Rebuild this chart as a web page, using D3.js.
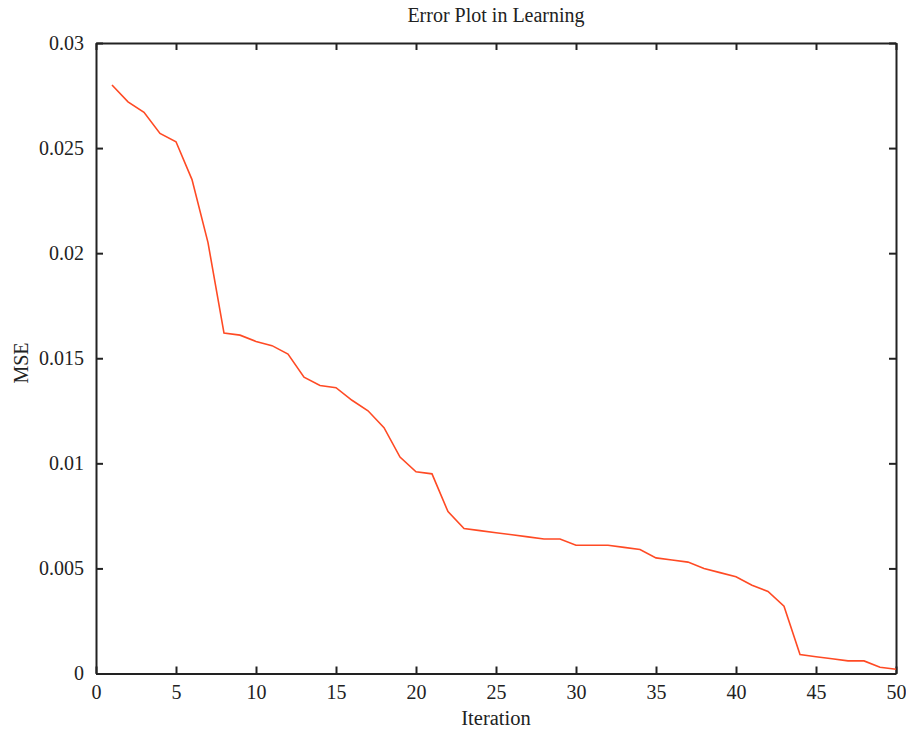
<!DOCTYPE html>
<html><head><meta charset="utf-8">
<script src="https://cdn.jsdelivr.net/npm/d3@7"></script>
<style>body{margin:0;background:#fff;} text{font-family:"Liberation Serif","DejaVu Serif",serif;fill:#222;}</style>
</head><body>
<svg id="c" width="906" height="731"></svg>
<script>
const iterations = d3.range(1, 51);
const mse = [0.0280,0.0272,0.0267,0.0257,0.0253,0.0235,0.0205,0.0162,0.0161,0.0158,
             0.0156,0.0152,0.0141,0.0137,0.0136,0.0130,0.0125,0.0117,0.0103,0.0096,
             0.0095,0.0077,0.0069,0.0068,0.0067,0.0066,0.0065,0.0064,0.0064,0.0061,
             0.0061,0.0061,0.0060,0.0059,0.0055,0.0054,0.0053,0.0050,0.0048,0.0046,
             0.0042,0.0039,0.0032,0.0009,0.0008,0.0007,0.0006,0.0006,0.0003,0.0002];
const xTicks = [0,5,10,15,20,25,30,35,40,45,50];
const yTicks = [0,0.005,0.01,0.015,0.02,0.025,0.03];
const yTickLabels = ["0","0.005","0.01","0.015","0.02","0.025","0.03"];

const L=96, R=896, T=43, B=673.5;
const svg = d3.select("#c");
const x = d3.scaleLinear().domain([0,50]).range([L,R]);
const y = d3.scaleLinear().domain([0,0.03]).range([B,T]);

const gx = svg.append("g").attr("transform",`translate(0,${B})`)
  .call(d3.axisBottom(x).tickValues(xTicks).tickSizeInner(-7).tickSizeOuter(0).tickPadding(11).tickFormat(d3.format("d")));
const gxt = svg.append("g").attr("transform",`translate(0,${T})`)
  .call(d3.axisTop(x).tickValues(xTicks).tickSizeInner(-7).tickSizeOuter(0).tickFormat(""));
const gy = svg.append("g").attr("transform",`translate(${L},0)`)
  .call(d3.axisLeft(y).tickValues(yTicks).tickSizeInner(-7).tickSizeOuter(0).tickPadding(12).tickFormat((d,i)=>yTickLabels[i]));
const gyr = svg.append("g").attr("transform",`translate(${R},0)`)
  .call(d3.axisRight(y).tickValues(yTicks).tickSizeInner(-7).tickSizeOuter(0).tickFormat(""));
[gx,gxt,gy,gyr].forEach(g=>{
  g.selectAll("path.domain").attr("stroke","#222").attr("stroke-width",2);
  g.selectAll(".tick line").attr("stroke","#222").attr("stroke-width",2);
  g.selectAll(".tick text").attr("font-size",20).attr("fill","#222").attr("font-family","'Liberation Serif',serif");
});

const line = d3.line().x((d,i)=>x(iterations[i])).y(d=>y(d));
svg.append("path").datum(mse).attr("d",line)
  .attr("fill","none").attr("stroke","#ff4a24").attr("stroke-width",1.6);

svg.append("text").attr("x",496).attr("y",22).attr("text-anchor","middle").attr("font-size",20).text("Error Plot in Learning");
svg.append("text").attr("x",496).attr("y",725).attr("text-anchor","middle").attr("font-size",20.5).text("Iteration");
svg.append("text").attr("transform","translate(28,363) rotate(-90)").attr("text-anchor","middle").attr("font-size",20).text("MSE");
</script>
</body></html>
